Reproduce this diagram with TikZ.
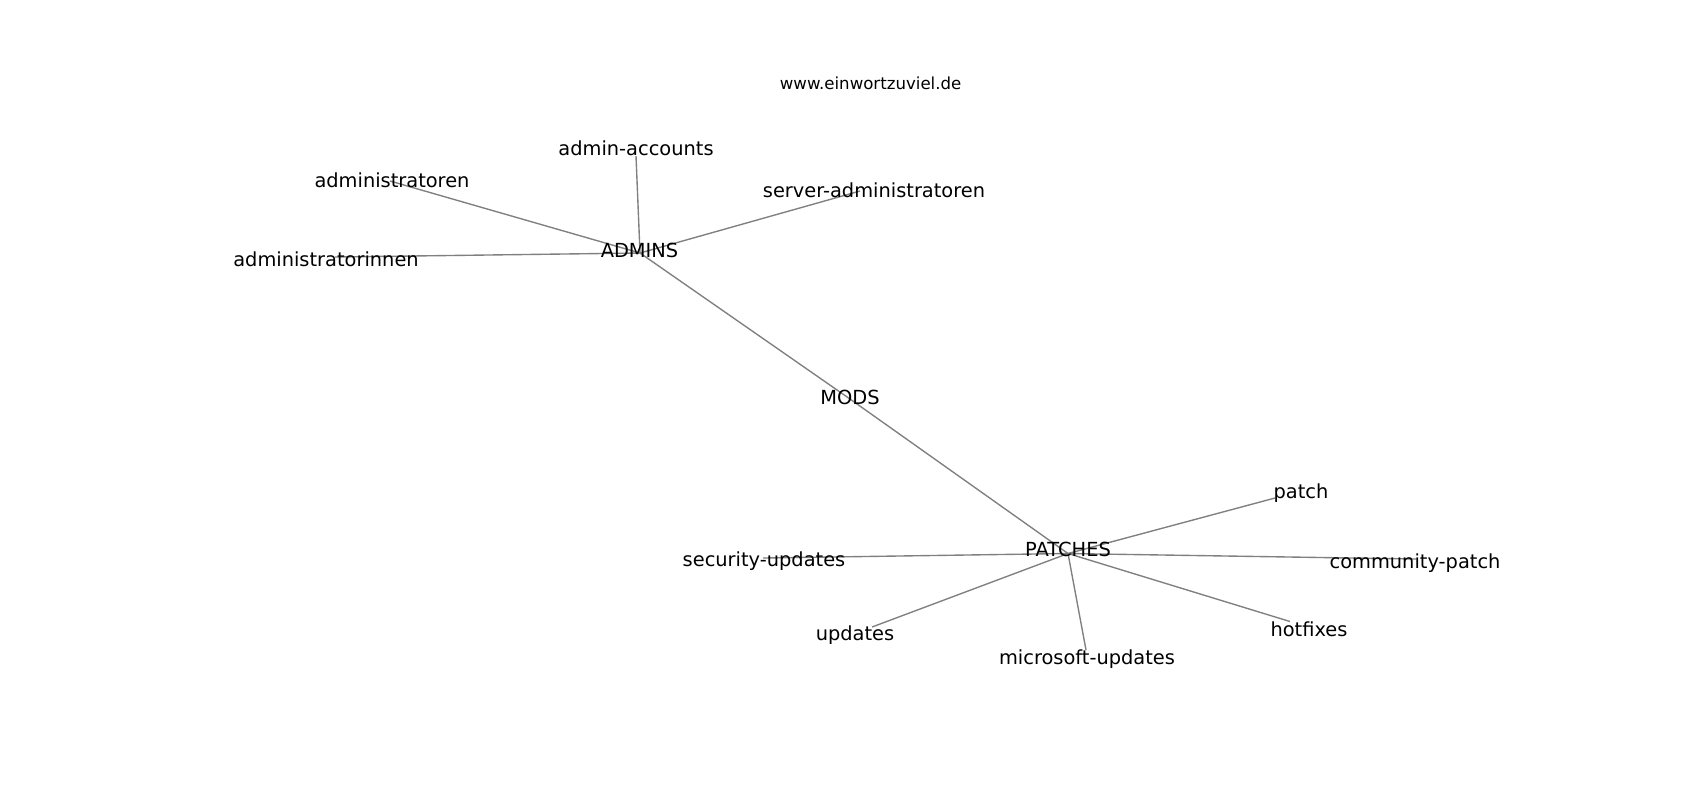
\documentclass[tikz,border=0pt]{standalone}
\usepackage{fontspec}
\setmainfont{DejaVu Sans}
\begin{document}
\begin{tikzpicture}[x=0.5pt, y=-0.5pt,
    word/.style={font=\fontsize{9.7}{11}\selectfont, inner sep=0pt, text height=0.73em, text depth=0pt},
    link/.style={draw=black!50, line width=0.69pt}]
    \useasboundingbox (0,0) rectangle (1700,800);

    \node[font=\fontsize{8.3}{10}\selectfont, inner sep=0pt, text height=0.73em, text depth=0pt] (site) at (870.6,82.4) {www.einwortzuviel.de};

    % graph points
    \coordinate (ADM) at (640,253);
    \coordinate (acc) at (636,156);
    \coordinate (adr) at (390,181);
    \coordinate (adi) at (335,257);
    \coordinate (srv) at (860,191);
    \coordinate (MOD) at (850,399);
    \coordinate (PAT) at (1068,553.5);
    \coordinate (pat) at (1275,498);
    \coordinate (com) at (1416,559);
    \coordinate (hot) at (1290,621.5);
    \coordinate (mic) at (1086,650);
    \coordinate (upd) at (872,627);
    \coordinate (sec) at (763,558);

    \draw[link] (ADM) -- (acc);
    \draw[link] (ADM) -- (adr);
    \draw[link] (ADM) -- (adi);
    \draw[link] (ADM) -- (srv);
    \draw[link] (ADM) -- (MOD);
    \draw[link] (MOD) -- (PAT);
    \draw[link] (PAT) -- (pat);
    \draw[link] (PAT) -- (com);
    \draw[link] (PAT) -- (hot);
    \draw[link] (PAT) -- (mic);
    \draw[link] (PAT) -- (upd);
    \draw[link] (PAT) -- (sec);

    % labels
    \node[word] (ADMt) at (639.5,250.5) {ADMINS};
    \node[word] (acct) at (636,148.5)   {admin-accounts};
    \node[word] (adrt) at (392,180)     {administratoren};
    \node[word] (adit) at (326,259.5)   {administratorinnen};
    \node[word] (srvt) at (874,189.7)   {server-administratoren};
    \node[word] (MODt) at (850,397.5)   {MODS};
    \node[word] (PATt) at (1068,549.5)  {PATCHES};
    \node[word] (patt) at (1301,491)    {patch};
    \node[word] (comt) at (1415,561.5)  {community-patch};
    \node[word] (hott) at (1309,629)    {hotfixes};
    \node[word] (mict) at (1087,657)    {microsoft-updates};
    \node[word] (updt) at (855,633)     {updates};
    \node[word] (sect) at (764,559.5)   {security-updates};
\end{tikzpicture}
\end{document}
